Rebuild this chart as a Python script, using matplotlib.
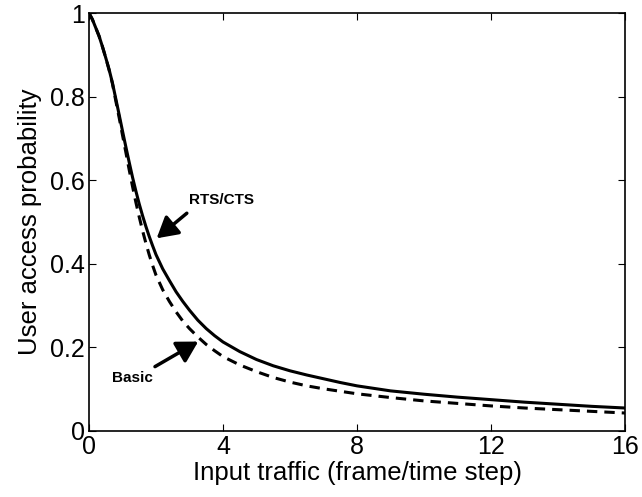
import matplotlib
matplotlib.use('Agg')
import matplotlib.pyplot as plt

plt.rcParams['font.family'] = ['Liberation Sans', 'DejaVu Sans']

# RTS/CTS curve (solid)
rts_x = [0, 0.1, 0.2, 0.3, 0.4, 0.5, 0.6, 0.7, 0.8, 0.9, 1.0, 1.1, 1.2, 1.3, 1.4, 1.5, 1.6, 1.7, 1.8, 1.9,
         2.0, 2.2, 2.4, 2.6, 2.8, 3.0, 3.25, 3.5, 3.75, 4.0, 4.5, 5.0, 5.5, 6.0, 6.5, 7.0, 7.5, 8.0,
         9, 10, 11, 12, 13, 14, 15, 16]
rts_y = [1.0, 0.985, 0.965, 0.945, 0.92, 0.893, 0.865, 0.833, 0.795, 0.757, 0.718, 0.68, 0.643, 0.607,
         0.574, 0.543, 0.515, 0.489, 0.465, 0.443, 0.422, 0.388, 0.36, 0.333, 0.31, 0.289, 0.265, 0.245,
         0.228, 0.213, 0.19, 0.171, 0.156, 0.144, 0.134, 0.125, 0.116, 0.108, 0.096, 0.088, 0.081, 0.075,
         0.069, 0.064, 0.059, 0.055]

# Basic curve (dashed)
basic_x = [0, 0.1, 0.2, 0.3, 0.4, 0.5, 0.6, 0.7, 0.8, 0.9, 1.0, 1.1, 1.2, 1.3, 1.4, 1.5, 1.6, 1.7, 1.8, 1.9,
           2.0, 2.2, 2.4, 2.6, 2.8, 3.0, 3.25, 3.5, 3.75, 4.0, 4.5, 5.0, 5.5, 6.0, 6.5, 7.0, 7.5, 8.0,
           9, 10, 11, 12, 13, 14, 15, 16]
basic_y = [1.0, 0.985, 0.965, 0.945, 0.92, 0.893, 0.864, 0.831, 0.79, 0.75, 0.708, 0.667, 0.625, 0.585,
           0.547, 0.512, 0.479, 0.449, 0.421, 0.396, 0.373, 0.338, 0.31, 0.285, 0.263, 0.245, 0.225, 0.207,
           0.192, 0.178, 0.158, 0.142, 0.128, 0.117, 0.108, 0.101, 0.095, 0.089, 0.080, 0.072, 0.066, 0.060,
           0.055, 0.051, 0.047, 0.043]

xticks = [0, 4, 8, 12, 16]
yticks = [0, 0.2, 0.4, 0.6, 0.8, 1]
ytick_labels = ['0', '0.2', '0.4', '0.6', '0.8', '1']

fig = plt.figure(figsize=(6.42, 4.97), dpi=100)
ax = fig.add_axes([0.1386, 0.1328, 0.835, 0.841])

ax.plot(rts_x, rts_y, color='black', lw=2.2)
ax.plot(basic_x, basic_y, color='black', lw=2.2, ls=(0, (3.4, 2.3)))

ax.set_xlim(0, 16)
ax.set_ylim(0, 1)
ax.set_xticks(xticks)
ax.set_xticklabels([str(t) for t in xticks])
ax.set_yticks(yticks)
ax.set_yticklabels(ytick_labels)
ax.tick_params(direction='in', top=True, right=True, length=5, width=0.8, labelsize=18, pad=3)
for s in ax.spines.values():
    s.set_linewidth(1.2)

ax.set_xlabel('Input traffic (frame/time step)', fontsize=18.5, labelpad=1)
ax.set_ylabel('User access probability', fontsize=18.5, labelpad=6)

arrow = dict(arrowstyle='-|>,head_length=0.7,head_width=0.4', color='black', lw=2.5, mutation_scale=18,
             shrinkA=0, shrinkB=0)
ax.text(3.0, 0.553, 'RTS/CTS', fontsize=11, fontweight='bold', va='center', ha='left')
ax.annotate('', xy=(2.02, 0.461), xytext=(2.92, 0.521), arrowprops=arrow)
ax.text(0.69, 0.127, 'Basic', fontsize=11, fontweight='bold', va='center', ha='left')
ax.annotate('', xy=(3.26, 0.214), xytext=(1.97, 0.154), arrowprops=arrow)

fig.savefig('out.png', dpi=100)
